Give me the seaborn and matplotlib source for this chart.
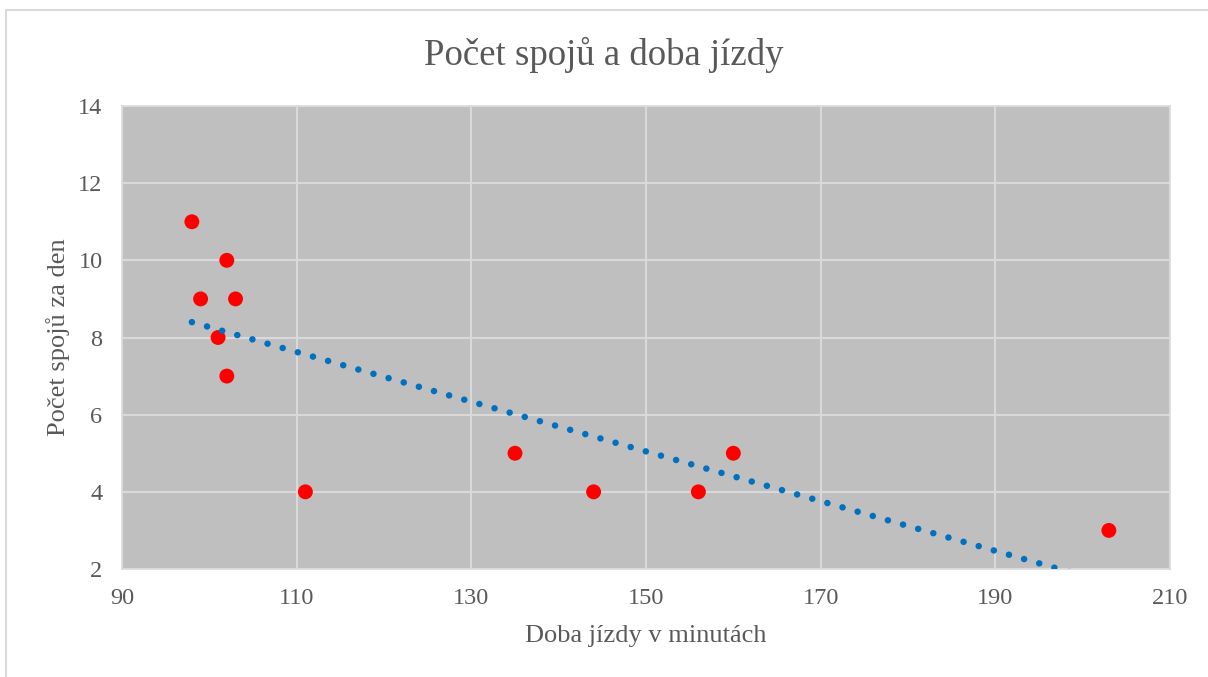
import numpy as np
import pandas as pd
import seaborn as sns
import matplotlib.pyplot as plt
from matplotlib.patches import Rectangle

# Travel time (minutes) and number of daily connections
doba_jizdy = [98, 99, 102, 103, 101, 102, 111, 135, 144, 156, 160, 203]
pocet_spoju = [11, 9, 10, 9, 8, 7, 4, 5, 4, 4, 5, 3]

x_ticks = [90, 110, 130, 150, 170, 190, 210]
y_ticks = [2, 4, 6, 8, 10, 12, 14]

title = "Počet spojů a doba jízdy"
x_label = "Doba jízdy v minutách"
y_label = "Počet spojů za den"

df = pd.DataFrame({"doba": doba_jizdy, "spoje": pocet_spoju})

sns.set_theme(style="whitegrid")
plt.rcParams["font.family"] = ["Liberation Serif", "DejaVu Serif"]
text_color = "#595959"
grid_color = "#D9D9D9"

fig = plt.figure(figsize=(12.08, 6.77), dpi=100)
fig.patch.set_facecolor("white")

# chart-area outline (open to the right and bottom)
fig.add_artist(Rectangle((6 / 1208, -0.05), 1.2, 1 - 10 / 677 + 0.05,
                         transform=fig.transFigure, fill=False,
                         edgecolor=grid_color, linewidth=1.5))

ax = fig.add_axes([122 / 1208, 1 - 569 / 677, (1170 - 122) / 1208, (569 - 106) / 677])
ax.set_facecolor("#BFBFBF")

sns.scatterplot(data=df, x="doba", y="spoje", ax=ax, color="#FF0000",
                s=115, edgecolor="none", zorder=3)

# linear trendline across the data range
coef = np.polyfit(df["doba"], df["spoje"], 1)
xs = np.linspace(df["doba"].min(), df["doba"].max(), 200)
ax.plot(xs, np.polyval(coef, xs), color="#0070C0", linewidth=4.7,
        linestyle=(0, (0.01, 2.4)), dash_capstyle="round", zorder=4)

ax.set_xlim(90, 210)
ax.set_ylim(2, 14)
ax.set_xticks(x_ticks)
ax.set_yticks(y_ticks)
ax.grid(True, color=grid_color, linewidth=1.5)
ax.set_axisbelow(True)
for sp in ax.spines.values():
    sp.set_color(grid_color)
    sp.set_linewidth(1.2)

ax.tick_params(axis="both", colors=text_color, labelsize=17.5, length=0)
ax.tick_params(axis="x", pad=14)
ax.tick_params(axis="y", pad=14)

ax.set_xlabel(x_label, fontsize=19, color=text_color, labelpad=11)
ax.set_ylabel(y_label, fontsize=19, color=text_color, labelpad=6)
fig.text(0.5, 1 - 55 / 677, title, ha="center", va="center",
         fontsize=26.5, color=text_color)

fig.savefig("out.png", dpi=100, facecolor="white")
